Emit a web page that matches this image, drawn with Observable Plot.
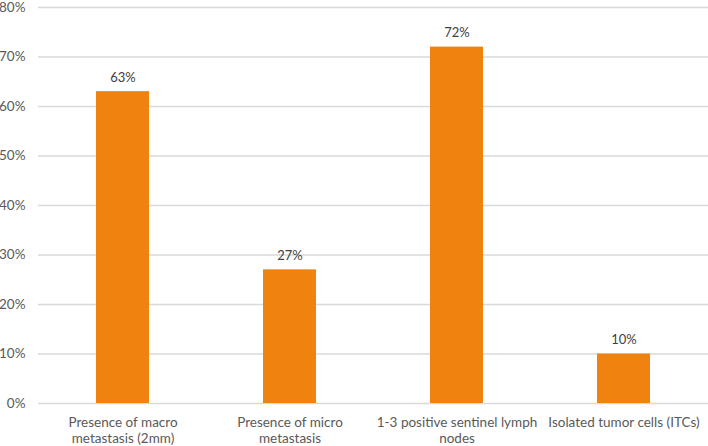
<!DOCTYPE html>
<html>
<head>
<meta charset="utf-8">
<script src="https://cdn.jsdelivr.net/npm/d3@7"></script>
<script src="https://cdn.jsdelivr.net/npm/@observablehq/plot@0.6"></script>
<style>
  html, body { margin: 0; padding: 0; background: #fff; }
  #chart svg { display: block; }
</style>
</head>
<body>
<div id="chart"></div>
<script>
const categories = [
  "Presence of macro\nmetastasis (2mm)",
  "Presence of micro\nmetastasis",
  "1-3 positive sentinel lymph\nnodes",
  "Isolated tumor cells (ITCs)"
];
const values = [63, 27, 72, 10];
const yTicks = [0, 10, 20, 30, 40, 50, 60, 70, 80];

const data = categories.map((c, i) => ({category: c, value: values[i]}));

const chart = Plot.plot({
  width: 708,
  height: 446,
  marginLeft: 38,
  marginRight: 0,
  marginTop: 7,
  marginBottom: 43,
  style: {fontFamily: "Lato, 'Open Sans', sans-serif", fontSize: "13px", background: "#fff"},
  x: {domain: categories, paddingInner: 0.684, paddingOuter: 0.342, align: 0.5, label: null},
  y: {domain: [0, 80], label: null},
  marks: [
    Plot.ruleY(yTicks, {stroke: "#d9d9d9", strokeWidth: 1.5}),
    Plot.barY(data, {x: "category", y: "value", fill: "#F0820F"}),
    Plot.text(data, {x: "category", y: "value", text: d => `${d.value}%`, dy: -14, fill: "#404040", fontSize: 13}),
    Plot.axisY({ticks: yTicks, tickFormat: d => `${d}%`, tickSize: 0, tickPadding: 13, fill: "#595959", fontSize: 13.5, label: null}),
    Plot.axisX({tickSize: 0, tickPadding: 12, lineHeight: 1.18, fill: "#595959", fontSize: 13.5, label: null})
  ]
});
document.getElementById("chart").appendChild(chart);
</script>
</body>
</html>
